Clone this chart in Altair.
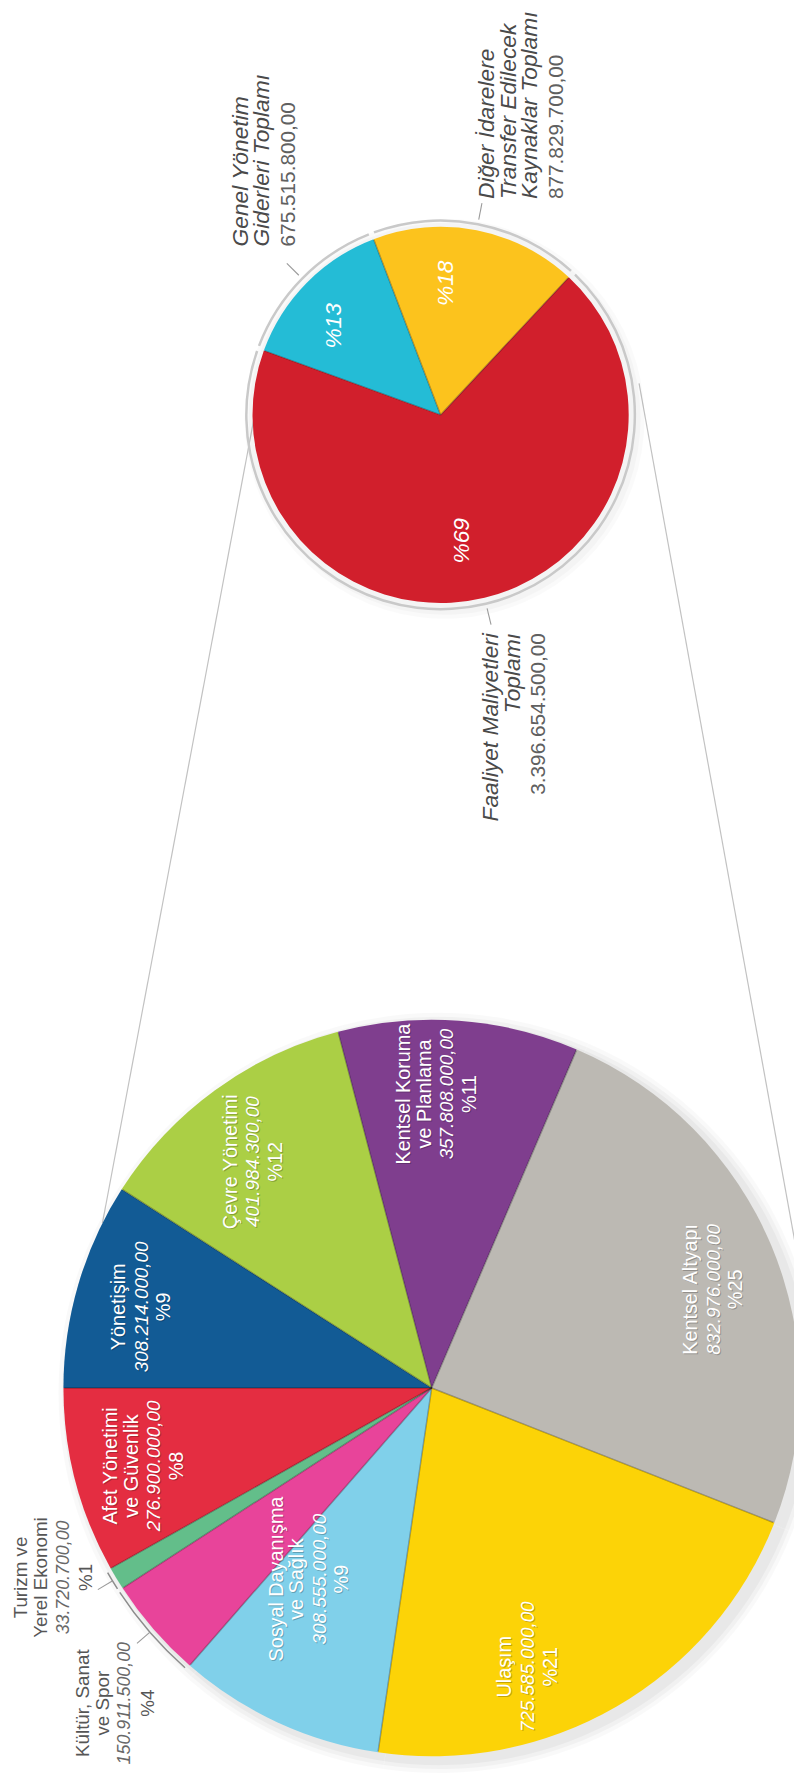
import math
import altair as alt
import pandas as pd

# ---------------- data ----------------
big_names = [
    "Yönetişim",
    "Çevre Yönetimi",
    "Kentsel Koruma\nve Planlama",
    "Kentsel Altyapı",
    "Ulaşım",
    "Sosyal Dayanışma\nve Sağlık",
    "Kültür, Sanat\nve Spor",
    "Turizm ve\nYerel Ekonomi",
    "Afet Yönetimi\nve Güvenlik",
]
big_values = [308214000.00, 401984300.00, 357808000.00, 832976000.00, 725585000.00,
              308555000.00, 150911500.00, 33720700.00, 276900000.00]
big_pct = ["%9", "%12", "%11", "%25", "%21", "%9", "%4", "%1", "%8"]

small_names = [
    "Genel Yönetim\nGiderleri Toplamı",
    "Diğer İdarelere\nTransfer Edilecek\nKaynaklar Toplamı",
    "Faaliyet Maliyetleri\nToplamı",
]
small_values = [675515800.00, 877829700.00, 3396654500.00]
small_pct = ["%13", "%18", "%69"]

big_colors = ["#125b95", "#abcf45", "#7f3e8e", "#bcb9b3", "#fcd307",
              "#80d0ea", "#e8449a", "#63be8a", "#e42d41"]
small_colors = ["#24bcd6", "#fcc31d", "#d11f2c"]

# ---------------- layout ----------------
M = 8
W, H = 794, 1772
BIG = {"cx": 436 - M, "cy": 1393 - M, "r": 372, "start": 270.0}
SMALL = {"cx": 445 - M, "cy": 410 - M, "r": 190, "start": 290.0}
FONT = "Liberation Sans"

# label placement: (angle nudge in degrees, radius, kind)
BIG_LABEL = {
    "Yönetişim": (-0.7, 304, "in"),
    "Çevre Yönetimi": (-2.2, 291, "in"),
    "Kentsel Koruma ve Planlama": (-3.2, 297, "in"),
    "Kentsel Altyapı": (3.4, 302, "in"),
    "Ulaşım": (11.0, 298, "in"),
    "Sosyal Dayanışma ve Sağlık": (7.8, 229, "in"),
    "Kültür, Sanat ve Spor": (-4.0, 451, "out"),
    "Turizm ve Yerel Ekonomi": (4.5, 427, "out"),
    "Afet Yönetimi ve Güvenlik": (-0.5, 301, "in"),
}
SMALL_LABEL = {
    "Genel Yönetim Giderleri Toplamı": (-0.8, 246, "left"),
    "Diğer İdarelere Transfer Edilecek Kaynaklar Toplamı": (9.6, 233, "left"),
    "Faaliyet Maliyetleri Toplamı": (-5.4, 233, "right"),
}
SMALL_PCT = {
    "Genel Yönetim Giderleri Toplamı": (-4.6, 140),
    "Diğer İdarelere Transfer Edilecek Kaynaklar Toplamı": (-8.8, 133),
    "Faaliyet Maliyetleri Toplamı": (4.0, 129),
}

STYLES = {
    "in_name": dict(fontSize=20, fontWeight=400, fontStyle="normal", color="#ffffff"),
    "in_value": dict(fontSize=19, fontWeight=300, fontStyle="italic", color="#ffffff"),
    "in_pct": dict(fontSize=20, fontWeight=400, fontStyle="normal", color="#ffffff"),
    "out_name": dict(fontSize=19, fontWeight=300, fontStyle="normal", color="#565656"),
    "out_value": dict(fontSize=18, fontWeight=300, fontStyle="italic", color="#686868"),
    "out_pct": dict(fontSize=19, fontWeight=300, fontStyle="normal", color="#565656"),
    "s_name": dict(fontSize=23, fontWeight=300, fontStyle="italic", color="#4a4a4a"),
    "s_value": dict(fontSize=21, fontWeight=300, fontStyle="normal", color="#606060"),
    "s_pct": dict(fontSize=23, fontWeight=400, fontStyle="italic", color="#ffffff"),
}
SHADOWED = {"in_name", "in_value", "in_pct"}
GAP_BIG = {("name", "name"): 20.5, ("name", "value"): 22.5, ("value", "pct"): 23}
GAP_SMALL = {("name", "name"): 21.5, ("name", "value"): 27}


def tr_fmt(v):
    s = f"{v:,.2f}"
    return s.replace(",", "X").replace(".", ",").replace("X", ".")


def pie_table(names, values, pct, start_deg):
    total = sum(values)
    rows, cum = [], 0.0
    for n, v, p in zip(names, values, pct):
        a0 = math.radians(start_deg) + 2 * math.pi * cum / total
        cum += v
        a1 = math.radians(start_deg) + 2 * math.pi * cum / total
        rows.append({"key": n.replace("\n", " "), "name": n, "value": v, "pct": p,
                     "t0": a0, "t1": a1, "tm": (a0 + a1) / 2})
    return pd.DataFrame(rows)


big = pie_table(big_names, big_values, big_pct, BIG["start"])
small = pie_table(small_names, small_values, small_pct, SMALL["start"])

color_scale = alt.Scale(domain=list(big["key"]) + list(small["key"]),
                        range=big_colors + small_colors)


def pt(geo, r, th):
    return geo["cx"] + r * math.sin(th), geo["cy"] - r * math.cos(th)


def arcs(df, geo, **kw):
    return alt.Chart(df).mark_arc(strokeWidth=0, **kw).encode(
        x=alt.value(geo["cx"]), y=alt.value(geo["cy"]),
        theta=alt.Theta("t0:Q", scale=None, stack=None),
        theta2="t1:Q",
    )


def rules(segs, **kw):
    return alt.Chart(pd.DataFrame(segs)).mark_rule(**kw).encode(
        x=alt.X("x:Q", scale=None, axis=None), y=alt.Y("y:Q", scale=None, axis=None),
        x2="x2:Q", y2="y2:Q")


layers = []

# ---------- connector lines between the two pies ----------
segs_conn = []
a = pt(SMALL, 186, math.radians(287.7)); b = pt(BIG, 372, math.radians(296.6))
segs_conn.append({"x": a[0], "y": a[1], "x2": b[0], "y2": b[1]})
a = pt(SMALL, 203, math.radians(81.0)); b = pt(BIG, 392, math.radians(70.9))
segs_conn.append({"x": a[0], "y": a[1], "x2": b[0], "y2": b[1]})
layers.append(rules(segs_conn, color="#c2c2c2", strokeWidth=1.2))

# ---------- shadows ----------
for k, op in [(12, 0.025), (8, 0.03), (4, 0.035)]:
    g = dict(BIG, cx=BIG["cx"] + 7, cy=BIG["cy"] + 5)
    layers.append(arcs(big, g, radius=BIG["r"] + k, color="#000000", opacity=op))
for k, op in [(12, 0.02), (8, 0.025)]:
    g = dict(SMALL, cx=SMALL["cx"] + 4, cy=SMALL["cy"] + 4)
    layers.append(arcs(small, g, radius=SMALL["r"] + k, color="#000000", opacity=op))

# ---------- pies ----------
layers.append(arcs(big, BIG, radius=BIG["r"]).encode(
    color=alt.Color("key:N", scale=color_scale, legend=None)))
layers.append(arcs(small, SMALL, radius=SMALL["r"] + 7.5, radius2=SMALL["r"] + 5,
                   padAngle=0.02, color="#c9c9c9"))
layers.append(arcs(small, SMALL, radius=SMALL["r"]).encode(
    color=alt.Color("key:N", scale=color_scale, legend=None)))

# slice separators
seps = []
for geo, df in [(BIG, big), (SMALL, small)]:
    for th in df["t0"]:
        e = pt(geo, geo["r"] - 1, th)
        seps.append({"x": geo["cx"], "y": geo["cy"], "x2": e[0], "y2": e[1]})
layers.append(rules(seps, color="#000000", opacity=0.28, strokeWidth=1.5))

# brackets for outside labels of the big pie
outside_keys = [k for k, v in BIG_LABEL.items() if v[2] == "out"]
layers.append(arcs(big[big["key"].isin(outside_keys)], BIG, radius=BIG["r"] + 5.5,
                   radius2=BIG["r"] + 4, padAngle=0.008, color="#8c8c8c"))

# leader ticks
leads = []
for _, row in big[big["key"].isin(outside_keys)].iterrows():
    a = pt(BIG, BIG["r"] + 5, row.tm); b = pt(BIG, BIG["r"] + 22, row.tm)
    leads.append({"x": a[0], "y": a[1], "x2": b[0], "y2": b[1]})
for _, row in small.iterrows():
    a = pt(SMALL, SMALL["r"] + 11, row.tm); b = pt(SMALL, SMALL["r"] + 28, row.tm)
    leads.append({"x": a[0], "y": a[1], "x2": b[0], "y2": b[1]})
layers.append(rules(leads, color="#9a9a9a", strokeWidth=1.1))

# ---------- text ----------
label_rows = []


def add_lines(geo, lines, gaps, th, rad, align):
    pos = [0.0]
    for i in range(1, len(lines)):
        pos.append(pos[-1] + gaps[(lines[i - 1][2], lines[i][2])])
    mid = (pos[0] + pos[-1]) / 2
    for (txt, style, kind), p in zip(lines, pos):
        label_rows.append({"text": txt, "style": style, "dy": round(p - mid, 1),
                           "ta": th, "ra": rad, "align": align,
                           "cx": geo["cx"], "cy": geo["cy"]})


for _, row in big.iterrows():
    nudge, rad, kind = BIG_LABEL[row.key]
    pre = "in_" if kind == "in" else "out_"
    lines = [(t, pre + "name", "name") for t in row["name"].split("\n")]
    lines.append((tr_fmt(row.value), pre + "value", "value"))
    lines.append((row.pct, pre + "pct", "pct"))
    add_lines(BIG, lines, GAP_BIG, row.tm + math.radians(nudge), rad, "center")

for _, row in small.iterrows():
    nudge, rad, align = SMALL_LABEL[row.key]
    lines = [(t, "s_name", "name") for t in row["name"].split("\n")]
    lines.append((tr_fmt(row.value), "s_value", "value"))
    add_lines(SMALL, lines, GAP_SMALL, row.tm + math.radians(nudge), rad, align)
    pn, pr = SMALL_PCT[row.key]
    add_lines(SMALL, [(row.pct, "s_pct", "pct")], GAP_SMALL, row.tm + math.radians(pn), pr, "center")

labels = pd.DataFrame(label_rows)


def text_layer(sub, style, dy, align, cx, cy, dx=0.0, shadow=False):
    st = dict(STYLES[style])
    if shadow:
        st["color"] = "#000000"
        st["opacity"] = 0.22
    return alt.Chart(sub[["text", "ta", "ra"]]).mark_text(
        angle=270, align=align, baseline="middle", dy=float(dy), dx=float(dx), font=FONT, **st
    ).encode(
        x=alt.value(float(cx)), y=alt.value(float(cy)),
        theta=alt.Theta("ta:Q", scale=None, stack=None),
        radius=alt.Radius("ra:Q", scale=None),
        text="text:N",
    )


groups = list(labels.groupby(["style", "dy", "align", "cx", "cy"]))
for (style, dy, align, cx, cy), sub in groups:
    if style in SHADOWED:
        layers.append(text_layer(sub, style, dy + 1, align, cx, cy, dx=-1, shadow=True))
for (style, dy, align, cx, cy), sub in groups:
    layers.append(text_layer(sub, style, dy, align, cx, cy))

chart = alt.layer(*layers).properties(
    width=W, height=H, padding=0,
    autosize=alt.AutoSizeParams(type="none"), background="#ffffff",
).configure_view(stroke=None)

chart.save("out.html", embed_options={"renderer": "svg", "actions": False})
